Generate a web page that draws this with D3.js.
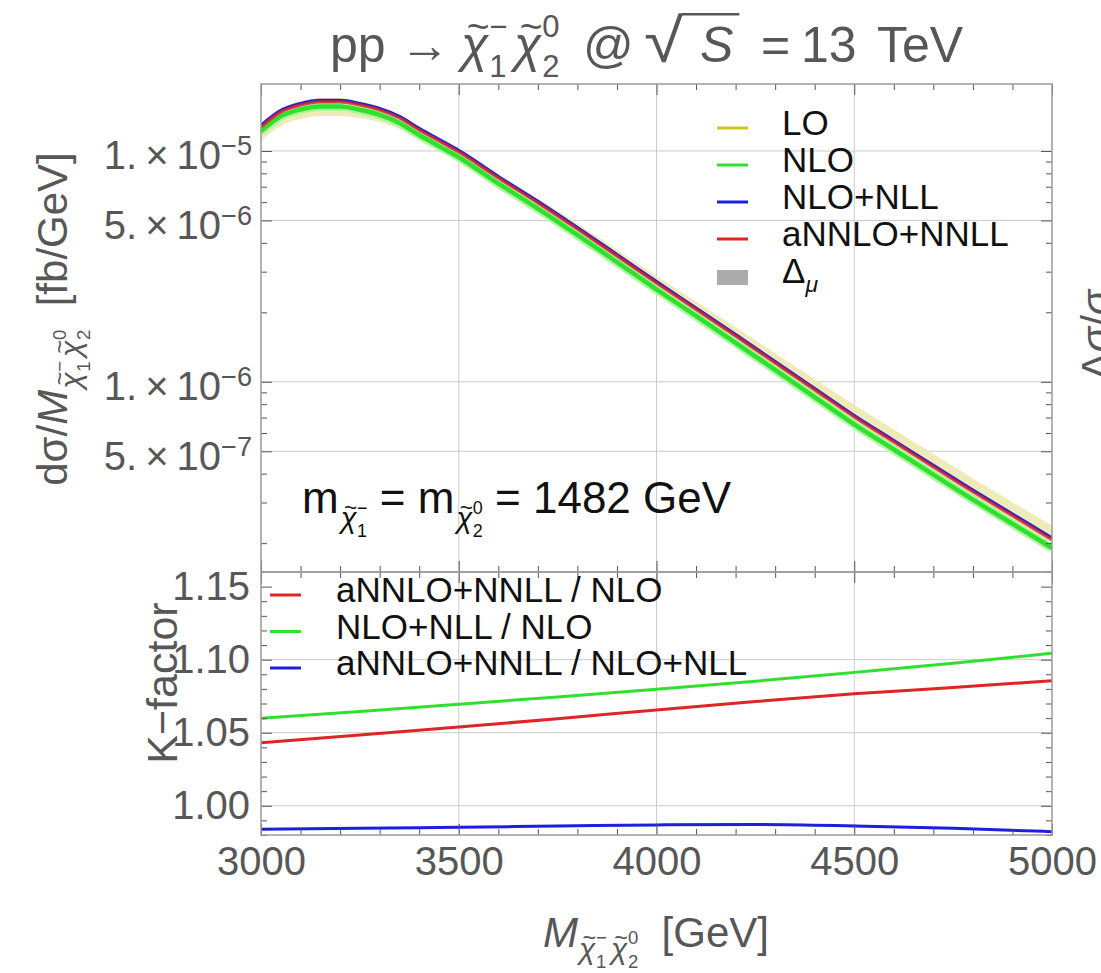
<!DOCTYPE html>
<html><head><meta charset="utf-8">
<script src="https://cdn.jsdelivr.net/npm/d3@7"></script>
<style>
html,body{margin:0;padding:0;background:#fff;}
svg{display:block;}
text{font-family:"Liberation Sans",Arial,Helvetica,sans-serif;white-space:pre;}
</style></head><body>
<svg id="chart" width="1101" height="973"></svg>
<script>
// Invariant-mass grid of the differential cross sections [GeV]
const massGrid = [3000,3050,3100,3150,3200,3250,3300,3350,3400,3450,3500,3600,3700,3800,3900,4000,4100,4200,4300,4400,4500,4600,4700,4800,4900,5000];
// dσ/dM [fb/GeV]
const sigmaLO = [1.205e-5,1.398e-5,1.497e-5,1.542e-5,1.541e-5,1.493e-5,1.420e-5,1.310e-5,1.161e-5,1.039e-5,9.30e-6,7.16e-6,5.57e-6,4.28e-6,3.27e-6,2.49e-6,1.91e-6,1.46e-6,1.115e-6,8.50e-7,6.48e-7,5.04e-7,3.92e-7,3.06e-7,2.40e-7,1.89e-7];
const sigmaLOLow = [1.105e-5,1.283e-5,1.375e-5,1.418e-5,1.418e-5,1.388e-5,1.335e-5,1.245e-5,1.116e-5,1.015e-5,9.237e-6,7.159e-6,5.602e-6,4.324e-6,3.306e-6,2.525e-6,1.941e-6,1.488e-6,1.138e-6,8.695e-7,6.641e-7,5.172e-7,4.032e-7,3.146e-7,2.477e-7,1.950e-7];
const sigmaLOHigh = [1.308e-5,1.527e-5,1.644e-5,1.697e-5,1.697e-5,1.641e-5,1.558e-5,1.434e-5,1.270e-5,1.138e-5,1.0197e-5,7.930e-6,6.234e-6,4.847e-6,3.735e-6,2.873e-6,2.227e-6,1.722e-6,1.331e-6,1.0282e-6,7.945e-7,6.209e-7,4.862e-7,3.811e-7,3.011e-7,2.381e-7];
const sigmaNLO = [1.2175e-5,1.4126e-5,1.5126e-5,1.5579e-5,1.5564e-5,1.5080e-5,1.4340e-5,1.3231e-5,1.1724e-5,1.0496e-5,9.394e-6,7.234e-6,5.631e-6,4.327e-6,3.301e-6,2.515e-6,1.929e-6,1.476e-6,1.1264e-6,8.590e-7,6.548e-7,5.091e-7,3.963e-7,3.087e-7,2.427e-7,1.907e-7];
const sigmaNLONLL = [1.2904e-5,1.4985e-5,1.6059e-5,1.6556e-5,1.6554e-5,1.6053e-5,1.5279e-5,1.4111e-5,1.2515e-5,1.1215e-5,1.0047e-5,7.751e-6,6.045e-6,4.654e-6,3.558e-6,2.716e-6,2.087e-6,1.600e-6,1.2238e-6,9.354e-7,7.146e-7,5.569e-7,4.344e-7,3.392e-7,2.674e-7,2.106e-7];
const sigmaANNLO = [1.270e-5,1.475e-5,1.581e-5,1.630e-5,1.630e-5,1.581e-5,1.505e-5,1.390e-5,1.233e-5,1.105e-5,9.90e-6,7.64e-6,5.96e-6,4.59e-6,3.51e-6,2.68e-6,2.06e-6,1.58e-6,1.208e-6,9.23e-7,7.05e-7,5.49e-7,4.28e-7,3.34e-7,2.63e-7,2.07e-7];

// K-factors
const kMass = [3000,3250,3500,3750,4000,4250,4500,4750,5000];
const kANNLOoverNLO = [1.0431,1.0484,1.0539,1.0596,1.0656,1.0713,1.0766,1.0810,1.0856];
const kNLLoverNLO = [1.0599,1.0645,1.0695,1.0745,1.0798,1.0853,1.0913,1.0975,1.1044];
const kANNLOoverNLL = [0.9839,0.9846,0.9853,0.9861,0.9869,0.9872,0.9862,0.9846,0.9823];

// Axis ticks
const xTicks = [3000,3500,4000,4500,5000];
const sigmaTicks = [1e-5,5e-6,1e-6,5e-7];
const sigmaTickMantissa = ["1.","5.","1.","5."];
const sigmaTickExponent = ["\u22125","\u22126","\u22126","\u22127"];
const kTicks = [1.00,1.05,1.10,1.15];
const kTickLabels = ["1.00","1.05","1.10","1.15"];

const topLegend = ["LO","NLO","NLO+NLL","aNNLO+NNLL"];
const kLegend = ["aNNLO+NNLL / NLO","NLO+NLL / NLO","aNNLO+NNLL / NLO+NLL"];

const C = {lo:"#d2c31c", loBand:"#ece9b0", nlo:"#2fe02f", nloHalo:"#aef5a0",
           nll:"#1e1ee0", annlo:"#e02424", grid:"#cbcbcb", frame:"#9a9a9a", tick:"#565656"};

const svg = d3.select("#chart");
const L = 261, R = 1052, T1 = 84, B1 = 572, T2 = 572, B2 = 835;

const x = d3.scaleLinear().domain([3000,5000]).range([L,R]);
const yTop = d3.scaleLog().domain([1.5e-7,1.95e-5]).range([B1,T1]);
const yK = d3.scaleLinear().domain([0.98,1.16]).range([B2,T2]);

const defs = svg.append("defs");
defs.append("clipPath").attr("id","clipTop").append("rect").attr("x",L).attr("y",T1).attr("width",R-L).attr("height",B1-T1);
defs.append("clipPath").attr("id","clipK").append("rect").attr("x",L).attr("y",T2).attr("width",R-L).attr("height",B2-T2);

// ---------- gridlines ----------
const grid = svg.append("g").attr("stroke",C.grid).attr("stroke-width",1);
[3500,4000,4500].forEach(v=>{
  grid.append("line").attr("x1",x(v)).attr("x2",x(v)).attr("y1",T1).attr("y2",B1);
  grid.append("line").attr("x1",x(v)).attr("x2",x(v)).attr("y1",T2).attr("y2",B2);
});
sigmaTicks.forEach(v=>grid.append("line").attr("x1",L).attr("x2",R).attr("y1",yTop(v)).attr("y2",yTop(v)));
[1.00,1.05,1.10].forEach(v=>grid.append("line").attr("x1",L).attr("x2",R).attr("y1",yK(v)).attr("y2",yK(v)));

// ---------- top panel curves ----------
const gTop = svg.append("g").attr("clip-path","url(#clipTop)");
const lineTop = d3.line().x((d,i)=>x(massGrid[i])).y(d=>yTop(d)).curve(d3.curveMonotoneX);
const bandLO = d3.area().x((d,i)=>x(massGrid[i])).y0((d,i)=>yTop(sigmaLOLow[i])).y1((d,i)=>yTop(sigmaLOHigh[i])).curve(d3.curveMonotoneX);
gTop.append("path").attr("d",bandLO(massGrid)).attr("fill",C.loBand).attr("opacity",0.9);
gTop.append("path").attr("d",lineTop(sigmaLO)).attr("fill","none").attr("stroke",C.lo).attr("stroke-width",2.5);
gTop.append("path").attr("d",lineTop(sigmaNLO)).attr("fill","none").attr("stroke",C.nloHalo).attr("stroke-width",9);
gTop.append("path").attr("d",lineTop(sigmaNLO)).attr("fill","none").attr("stroke",C.nlo).attr("stroke-width",4.5);
gTop.append("path").attr("d",lineTop(sigmaNLONLL)).attr("fill","none").attr("stroke",C.nll).attr("stroke-width",3.2);
gTop.append("path").attr("d",lineTop(sigmaANNLO)).attr("fill","none").attr("stroke",C.annlo).attr("stroke-width",3.2).attr("opacity",0.82);

// ---------- K-factor curves ----------
const gK = svg.append("g").attr("clip-path","url(#clipK)");
const lineK = d3.line().x((d,i)=>x(kMass[i])).y(d=>yK(d)).curve(d3.curveMonotoneX);
gK.append("path").attr("d",lineK(kNLLoverNLO)).attr("fill","none").attr("stroke",C.nlo).attr("stroke-width",3);
gK.append("path").attr("d",lineK(kANNLOoverNLO)).attr("fill","none").attr("stroke",C.annlo).attr("stroke-width",3);
gK.append("path").attr("d",lineK(kANNLOoverNLL)).attr("fill","none").attr("stroke",C.nll).attr("stroke-width",3);

// ---------- frames and tick marks ----------
function styleTicks(g){ g.select(".domain").remove(); g.selectAll("line").attr("stroke",C.tick).attr("stroke-width",1); g.selectAll("text").remove(); }
const minorX = d3.range(3000,5001,100).filter(v=>v%500!==0);
[[T1,"top"],[B1,"bottom"],[T2,"top"],[B2,"bottom"]].forEach(([yy,side])=>{
  const mk = ()=> side==="top" ? d3.axisTop(x) : d3.axisBottom(x);
  svg.append("g").attr("transform",`translate(0,${yy})`).call(mk().tickValues(minorX).tickSize(-6)).call(styleTicks);
  svg.append("g").attr("transform",`translate(0,${yy})`).call(mk().tickValues(xTicks).tickSize(-11)).call(styleTicks);
});
const logMinor = [], logMajor = [];
[-7,-6,-5].forEach(e=>{ for(let k=1;k<=9;k++){ const v=k*Math.pow(10,e); if(v>=1.5e-7 && v<=1.95e-5){ (k===1||k===5?logMajor:logMinor).push(v);} } });
const kMinor = d3.range(98,117,1).filter(v=>v%5!==0).map(v=>v/100);
[[L,"left"],[R,"right"]].forEach(([xx,side])=>{
  const mk = ()=> side==="left" ? d3.axisLeft(yTop) : d3.axisRight(yTop);
  svg.append("g").attr("transform",`translate(${xx},0)`).call(mk().tickValues(logMinor).tickSize(-6)).call(styleTicks);
  svg.append("g").attr("transform",`translate(${xx},0)`).call(mk().tickValues(logMajor).tickSize(-11)).call(styleTicks);
  const mk2 = ()=> side==="left" ? d3.axisLeft(yK) : d3.axisRight(yK);
  svg.append("g").attr("transform",`translate(${xx},0)`).call(mk2().tickValues(kMinor).tickSize(-6)).call(styleTicks);
  svg.append("g").attr("transform",`translate(${xx},0)`).call(mk2().tickValues(kTicks).tickSize(-11)).call(styleTicks);
});
svg.append("rect").attr("x",L).attr("y",T1).attr("width",R-L).attr("height",B1-T1).attr("fill","none").attr("stroke",C.frame).attr("stroke-width",1.5);
svg.append("rect").attr("x",L).attr("y",T2).attr("width",R-L).attr("height",B2-T2).attr("fill","none").attr("stroke",C.frame).attr("stroke-width",1.5);

// ---------- tick labels ----------
const LABEL = "#575757", TS = 40;
const xLab = svg.append("g").attr("transform",`translate(0,${B2})`)
  .call(d3.axisBottom(x).tickValues(xTicks).tickSize(0).tickPadding(12).tickFormat(d3.format("d")));
xLab.select(".domain").remove();
xLab.selectAll("text").attr("font-size",TS).attr("fill",LABEL).attr("font-family",null);

const kLab = svg.append("g").attr("transform",`translate(${L},0)`)
  .call(d3.axisLeft(yK).tickValues(kTicks).tickSize(0).tickPadding(11).tickFormat((d,i)=>kTickLabels[i]));
kLab.select(".domain").remove();
kLab.selectAll("text").attr("font-size",TS).attr("fill",LABEL).attr("font-family",null);

const sLab = svg.append("g").attr("transform",`translate(${L},0)`)
  .call(d3.axisLeft(yTop).tickValues(sigmaTicks).tickSize(0).tickPadding(9).tickFormat(""));
sLab.select(".domain").remove();
sLab.selectAll("text").attr("font-size",TS).attr("fill",LABEL).attr("font-family",null).attr("dy","0.45em")
  .each(function(d,i){
    const t = d3.select(this);
    t.append("tspan").text(sigmaTickMantissa[i] + "\u2009\u00d7\u200910");
    t.append("tspan").attr("dy","-0.52em").attr("font-size","0.68em").text(sigmaTickExponent[i]);
  });

// ---------- math-style text helpers ----------
function put(g, xx, yy, str, s, o={}){
  return g.append("text").attr("x",xx).attr("y",yy).attr("font-size",s)
    .attr("fill",o.fill||LABEL).attr("font-style",o.italic?"italic":null)
    .attr("text-anchor",o.anchor||"start").text(str);
}
// tilded chi with lower index and upper charge; returns its advance width
function chiSym(g, cx, yy, s, sub, sup, fill){
  const c = put(g, cx, yy, "\u03c7", s, {fill, italic:true});
  const w = c.node().getComputedTextLength();
  put(g, cx + w/2 + 0.07*s, yy - 0.44*s, "~", 0.78*s, {fill, anchor:"middle"});
  const a = put(g, cx + w + 0.02*s, yy + 0.3*s, sub, 0.62*s, {fill});
  const b = put(g, cx + w + 0.02*s, yy - 0.5*s, sup, 0.62*s, {fill});
  return w + 0.02*s + Math.max(a.node().getComputedTextLength(), b.node().getComputedTextLength());
}
// sequential layout of text pieces
function flow(g, x0, y0, items){
  let cx = x0;
  items.forEach(it=>{
    const yy = y0 + (it.dy||0);
    cx += it.dx||0;
    if(it.chi){
      cx += chiSym(g, cx, yy, it.s, it.sub, it.sup, it.fill);
    } else {
      const t = put(g, cx, yy, it.t, it.s, {fill:it.fill, italic:it.italic});
      cx += t.node().getComputedTextLength();
    }
  });
  return cx;
}
function centered(parent, cxp, items){
  const g = parent.append("g");
  const w = flow(g, 0, 0, items);
  g.attr("transform",`translate(${cxp - w/2},0)`);
  return g;
}

// ---------- title ----------
const TT = 50, TY = 62;
const title = svg.append("g");
put(title, 330, TY, "pp", TT);
put(title, 400, TY, "\u2192", TT);
chiSym(title, 461, TY, TT, "1", "\u2212", LABEL);
chiSym(title, 514, TY, TT, "2", "0", LABEL);
put(title, 583, TY, "@", TT);
// radical sign stretched over the capital S, sized from the glyph's ink box
const RX = 644, RTOP = 13, RRIGHT = 684;
const meas = document.createElement("canvas").getContext("2d");
meas.font = `${TT}px "Liberation Sans", Arial, sans-serif`;
const rm = meas.measureText("\u221a");
const rsy = (TY - RTOP) / Math.max(rm.actualBoundingBoxAscent, 1);
const rsx = (RRIGHT - RX) / Math.max(rm.actualBoundingBoxRight, 1);
title.append("text").attr("transform",`translate(${RX},${TY}) scale(${rsx},${rsy})`)
  .attr("font-size",TT).attr("fill",LABEL).text("\u221a");
const sGlyph = put(title, 700, TY, "S", TT, {italic:true});
title.append("line").attr("x1",RRIGHT - 2).attr("x2",700 + sGlyph.node().getComputedTextLength() + 6)
  .attr("y1",RTOP + 1.3).attr("y2",RTOP + 1.3).attr("stroke",LABEL).attr("stroke-width",2.6);
put(title, 761, TY, "=", TT);
put(title, 801, TY, "13", TT);
put(title, 877, TY, "TeV", TT);

// ---------- axis titles ----------
const AS = 42, SS = 30;
const xTitle = svg.append("g").attr("transform","translate(0,947)");
centered(xTitle, 656, [
  {t:"M", s:AS, italic:true},
  {chi:true, s:SS, sub:"1", sup:"\u2212", dy:12, dx:1},
  {chi:true, s:SS, sub:"2", sup:"0", dy:12, dx:4},
  {t:"  [GeV]", s:AS}
]);

const yTitle = svg.append("g").attr("transform","translate(67,319) rotate(-90)");
centered(yTitle, 0, [
  {t:"d\u03c3/", s:AS},
  {t:"M", s:AS, italic:true},
  {chi:true, s:SS, sub:"1", sup:"\u2212", dy:14, dx:1},
  {chi:true, s:SS, sub:"2", sup:"0", dy:14, dx:4},
  {t:"  [fb/GeV]", s:AS}
]);

svg.append("g").attr("transform","translate(177,683) rotate(-90)")
  .append("text").attr("text-anchor","middle").attr("font-size",43).attr("fill",LABEL).text("K\u2212factor");

// label of the neighbouring panel's axis, cut by the page edge
svg.append("g").attr("transform","translate(1111,335) rotate(-90)")
  .append("text").attr("text-anchor","middle").attr("font-size",AS).attr("fill",LABEL)
  .html('\u0394<tspan font-style="italic">\u03c3</tspan>/<tspan font-style="italic">\u03c3</tspan>');

// ---------- annotation ----------
const AN = 44, ANS = 29;
flow(svg.append("g"), 302, 513, [
  {t:"m", s:AN, fill:"#111"},
  {chi:true, s:ANS, sub:"1", sup:"\u2212", dy:15, dx:2, fill:"#111"},
  {t:" = m", s:AN, fill:"#111"},
  {chi:true, s:ANS, sub:"2", sup:"0", dy:15, dx:2, fill:"#111"},
  {t:" = 1482 GeV", s:AN, fill:"#111"}
]);

// ---------- legends ----------
const LS = 35;
const legTop = svg.append("g");
const legColors = [C.lo, C.nlo, C.nll, C.annlo];
topLegend.forEach((name,i)=>{
  const by = 135 + i*37;
  legTop.append("line").attr("x1",717).attr("x2",748).attr("y1",by-7).attr("y2",by-7).attr("stroke",legColors[i]).attr("stroke-width",3);
  put(legTop, 782, by, name, LS, {fill:"#111"});
});
legTop.append("rect").attr("x",717).attr("y",270).attr("width",31).attr("height",15).attr("fill","#acacac");
flow(legTop, 782, 283, [{t:"\u0394", s:LS, fill:"#111"}, {t:"\u03bc", s:23, italic:true, dy:9, fill:"#111"}]);

const legK = svg.append("g");
const kColors = [C.annlo, C.nlo, C.nll];
kLegend.forEach((name,i)=>{
  const by = 602 + i*36.5;
  legK.append("line").attr("x1",270).attr("x2",301).attr("y1",by-7).attr("y2",by-7).attr("stroke",kColors[i]).attr("stroke-width",3);
  put(legK, 336, by, name, 35, {fill:"#111"});
});
</script>
</body></html>
